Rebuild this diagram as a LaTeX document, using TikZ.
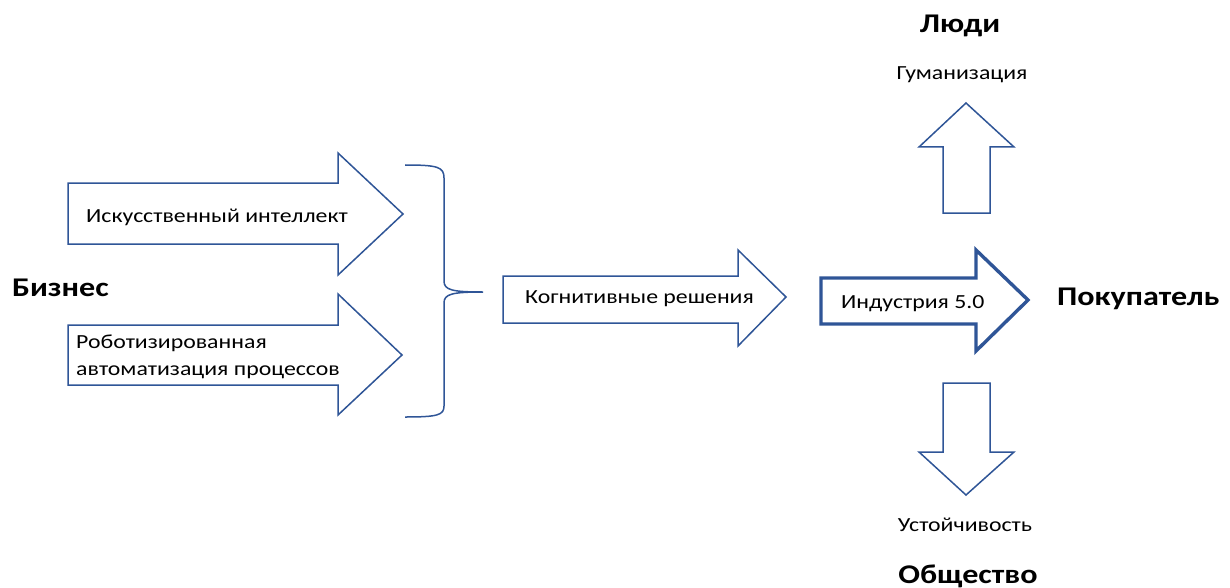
\documentclass[tikz,border=0pt]{standalone}
\usepackage{fontspec}
\setmainfont[FakeStretch=1.19]{Carlito}
\definecolor{arrowblue}{HTML}{2F5597}
\begin{document}
\begin{tikzpicture}[x=1pt,y=-1pt,
  shapeline/.style={draw=arrowblue,line width=1.5pt,line join=miter,fill=white},
  thickline/.style={draw=arrowblue,line width=3.4pt,line join=miter,fill=white},
  lbl/.style={inner sep=0pt,font=\fontsize{20}{27}\selectfont},
  big/.style={inner sep=0pt,font=\fontsize{27}{32}\selectfont\bfseries}]
\useasboundingbox (0,0) rectangle (1230,588);
% arrows
\draw[shapeline] (68,183) -- (338,183) -- (338,153) -- (403,214) -- (338,275) -- (338,244) -- (68,244) -- cycle;
\draw[shapeline] (68,325) -- (338,325) -- (338,294) -- (402,355) -- (338,415) -- (338,385) -- (68,385) -- cycle;
\draw[shapeline] (503,276) -- (738,276) -- (738,250) -- (786,297) -- (738,346) -- (738,323) -- (503,323) -- cycle;
\draw[thickline] (821,278) -- (976,278) -- (976,250) -- (1028,300) -- (976,351) -- (976,324) -- (821,324) -- cycle;
\draw[shapeline] (966,103) -- (1014,147) -- (990,147) -- (990,213) -- (943,213) -- (943,147) -- (919,147) -- cycle;
\draw[shapeline] (943,383) -- (990,383) -- (990,452) -- (1014,452) -- (966,495) -- (919,452) -- (943,452) -- cycle;
% brace
\coordinate (bt) at (405,165);
\coordinate (bm) at (483,292);
\coordinate (bb) at (405,417);
\draw[draw=arrowblue,line width=1.5pt] (bt) .. controls (438,165) and (444,167) .. (444,178) -- (444,281) .. controls (444,290) and (452,292) .. (bm)
  .. controls (452,292) and (444,294) .. (444,303) -- (444,406) .. controls (444,415) and (438,417) .. (bb);
% labels
\node[lbl,anchor=base west] (ai) at (86,222) {Искусственный интеллект};
\node[lbl,anchor=base west,align=left] (rpa) at (76,375) {Роботизированная\\автоматизация процессов};
\node[lbl,anchor=base west] (cog) at (525,303) {Когнитивные решения};
\node[lbl,anchor=base west] (ind) at (841,308) {Индустрия 5.0};
\node[lbl,anchor=base] (hum) at (962,80) {Гуманизация};
\node[lbl,anchor=base] (sus) at (965,531) {Устойчивость};
\node[big,anchor=base west] (biz) at (12,296) {Бизнес};
\node[big,anchor=base west] (cust) at (1057,305) {Покупатель};
\node[big,anchor=base] (ppl) at (960,33) {Люди};
\node[big,anchor=base] (soc) at (968,583) {Общество};
\end{tikzpicture}
\end{document}
